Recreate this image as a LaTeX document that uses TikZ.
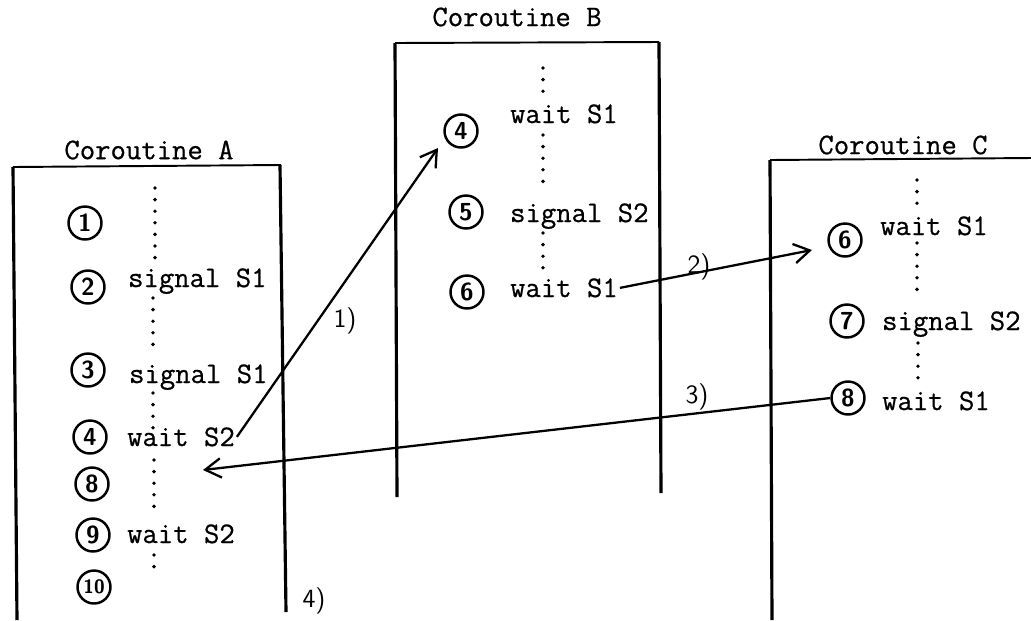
\documentclass[tikz,border=0pt]{standalone}
\usepackage{fontspec}
\setmonofont{Latin Modern Mono}[FakeBold=0.7]
\usetikzlibrary{arrows.meta,positioning,calc}

\begin{document}
\begin{tikzpicture}[
    x=0.02cm, y=-0.02cm,
    font=\ttfamily\fontsize{17}{20}\selectfont,
    title/.style={
        inner sep=1pt
    },
    stmt/.style={
        anchor=base west,
        inner sep=1pt
    },
    num/.style={
        circle,
        draw=black,
        line width=1.4pt,
        minimum size=0.66cm,
        inner sep=0pt,
        font=\sffamily\bfseries\fontsize{14}{14}\selectfont
    },
    wall/.style={line width=1.8pt},
    roof/.style={line width=1.1pt},
    dots/.style={line width=2.2pt, line cap=round, dash pattern=on 0pt off 6.6pt},
    steplabel/.style={
        font=\sffamily\fontsize{15}{15}\selectfont,
        inner sep=1pt
    },
    arrow/.style={-{Straight Barb[length=9pt,width=11pt]}, line width=1.3pt}
]

\useasboundingbox (0,0) rectangle (1031,620);

% =========================================================
% COROUTINE A
% =========================================================

\draw[roof] (13,167) -- (281,165);
\draw[wall] (13,167) -- (17,620);
\draw[wall] (280,165) -- (286,612);

\node[title] (titleA) at (149,150) {Coroutine A};

\node[num] (a1) at (85,223) {1};
\node[num] (a2) at (88,287) {2};
\node[num] (a3) at (88,370) {3};
\node[num] (a4) at (90,437) {4};
\node[num] (a8) at (92,484) {8};
\node[num] (a9) at (93,535) {9};
\node[num, font=\sffamily\bfseries\fontsize{11}{11}\selectfont] (a10) at (94,587) {10};

\node[stmt] (a2s) at (126,287) {signal S1};
\node[stmt] (a3s) at (127,383) {signal S1};
\node[stmt] (a4s) at (125,446) {wait S2};
\node[stmt] (a9s) at (125,543) {wait S2};

\draw[dots] (155,188) -- (155,260);
\draw[dots] (153,298) -- (153,353);
\draw[dots] (153,393) -- (153,433);
\draw[dots] (154,460) -- (154,513);
\draw[dots] (154,555) -- (154,578);

% =========================================================
% COROUTINE B
% =========================================================

\draw[roof] (395,43) -- (659,42);
\draw[wall] (395,43) -- (397,497);
\draw[wall] (659,42) -- (661,493);

\node[title] (titleB) at (517,17) {Coroutine B};

\node[num] (b4) at (461,131) {4};
\node[num] (b5) at (466,212) {5};
\node[num] (b6) at (467,292) {6};

\node[stmt] (b4s) at (508,123) {wait S1};
\node[stmt] (b5s) at (508,222) {signal S2};
\node[stmt] (b6s) at (508,297) {wait S1};

\draw[dots] (543,68) -- (543,97);
\draw[dots] (543,135) -- (543,190);
\draw[dots] (543,233) -- (543,270);

% =========================================================
% COROUTINE C
% =========================================================

\draw[roof] (770,160) -- (1031,158);
\draw[wall] (770,160) -- (772,620);

\node[title] (titleC) at (903,145) {Coroutine C};

\node[num] (c6) at (845,240) {6};
\node[num] (c7) at (847,321) {7};
\node[num] (c8) at (848,398) {8};

\node[stmt] (c6s) at (878,235) {wait S1};
\node[stmt] (c7s) at (880,330) {signal S2};
\node[stmt] (c8s) at (880,410) {wait S1};

\draw[dots] (917,180) -- (917,207);
\draw[dots] (917,243) -- (917,300);
\draw[dots] (918,343) -- (918,380);

% =========================================================
% TRANSFERS
% =========================================================

\coordinate (t1) at (438,148);
\coordinate (t2) at (812,250);
\coordinate (t3) at (203,470);

\draw[arrow] (a4s.east) -- (t1);
\draw[arrow] (b6s.east) -- (t2);
\draw[arrow] (c8.west) -- (t3);

\node[steplabel] (l1) at (345,321) {1)};
\node[steplabel] (l2) at (699,267) {2)};
\node[steplabel] (l3) at (697,397) {3)};
\node[steplabel] (l4) at (314,601) {4)};

\end{tikzpicture}
\end{document}
